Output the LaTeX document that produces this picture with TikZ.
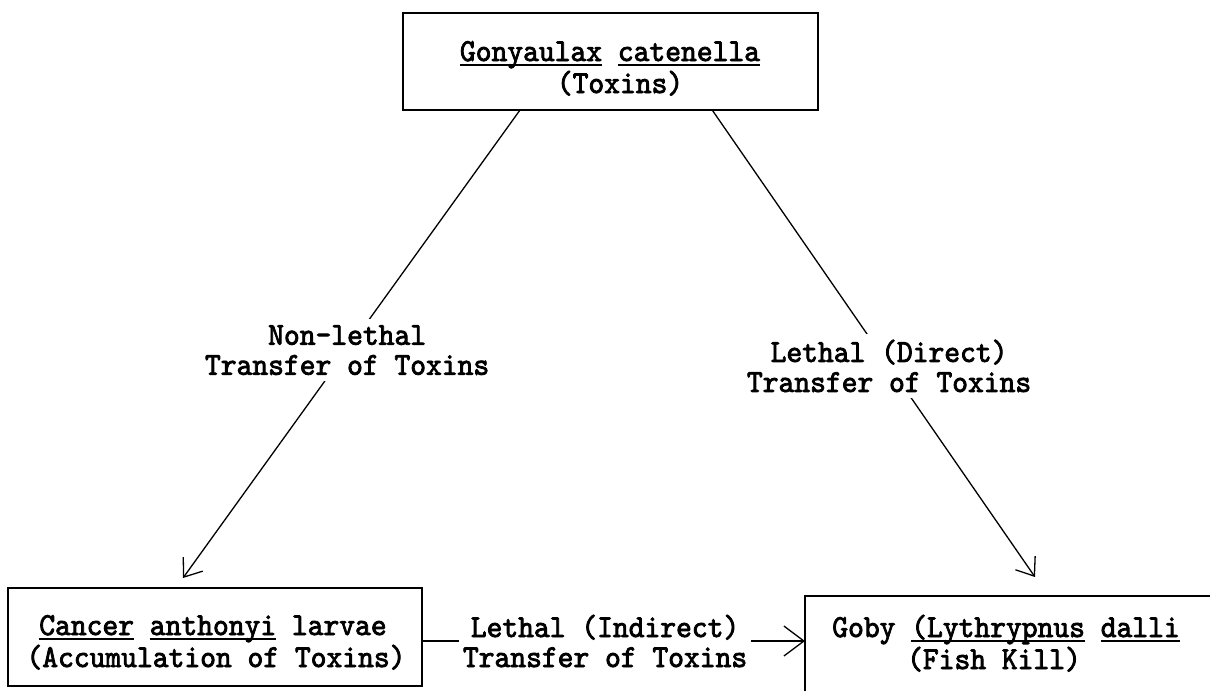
\documentclass[tikz,border=0pt]{standalone}
\usepackage{fontspec}
\newfontfamily\tw{lmmono10-regular.otf}[FakeBold=2.5,FakeStretch=0.94]
\usetikzlibrary{arrows.meta,calc}
\newcommand\ulw[1]{\setbox0\hbox{#1}\rlap{\rule[-4.5pt]{\wd0}{1.6pt}}\box0\relax}
\tikzset{
  box/.style={draw, line width=1.6pt, inner sep=0pt, outer sep=0pt},
  txt/.style={font=\fontsize{32}{30}\selectfont\tw, inner sep=0pt, anchor=base},
  lbl/.style={font=\fontsize{32}{30}\selectfont\tw, align=center, fill=white, inner sep=6pt},
  conn/.style={line width=1.3pt, -{Straight Barb[length=16pt,width=24pt,line width=1.3pt]}},
}
\begin{document}
\begin{tikzpicture}[x=1pt,y=-1pt]
\useasboundingbox (0,0) rectangle (1210,691);
% boxes
\node[box, minimum width=415pt, minimum height=97pt] (tb) at (610.5,61.5) {};
\node[box, minimum width=414pt, minimum height=98pt] (cab) at (215,637) {};
\node[inner sep=0pt, outer sep=0pt, minimum width=405pt, minimum height=95pt] (gb) at (1007.5,643.5) {};
\draw[line width=1.6pt] (gb.north east) -- (gb.north west) -- (gb.south west);
% box texts
\node[txt] (tb1) at (610,61) {\ulw{Gonyaulax} \ulw{catenella}};
\node[txt] (tb2) at (620,93) {(Toxins)};
\node[txt] (cab1) at (213,635) {\ulw{Cancer} \ulw{anthonyi} larvae};
\node[txt] (cab2) at (216,667) {(Accumulation of Toxins)};
\node[txt] (gb1) at (1006,637) {Goby \ulw{(Lythrypnus} \ulw{dalli}};
\node[txt] (gb2) at (994,669) {(Fish Kill)};
% connectors
\coordinate (lt) at (183,578);
\coordinate (rt) at (1035,577);
\draw[conn] ($(tb.south west)!0.282!(tb.south east)$) -- node[lbl, pos=0.513] (l1) {Non-lethal\\Transfer of Toxins} (lt);
\draw[conn] ($(tb.south west)!0.745!(tb.south east)$) -- node[lbl, pos=0.548] (l2) {Lethal (Direct)\\Transfer of Toxins} (rt);
\draw[line width=1.3pt, -{Straight Barb[length=20pt,width=30pt,line width=1.3pt]}] ($(cab.east)+(0,4)$) -- node[lbl, pos=0.478, inner sep=4pt] (l3) {Lethal (Indirect)\\Transfer of Toxins} ($(gb.west)+(0,-2.5)$);
\end{tikzpicture}
\end{document}
